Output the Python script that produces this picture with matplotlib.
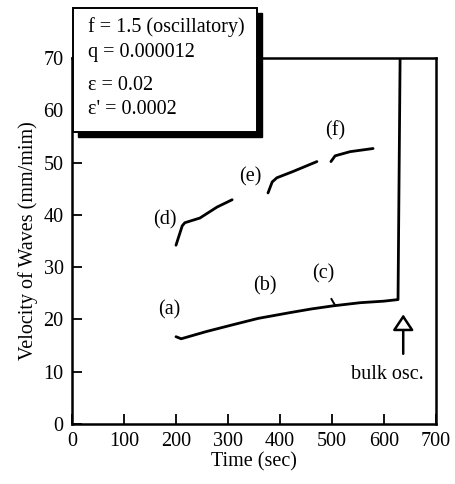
import matplotlib
matplotlib.use('Agg')
import matplotlib.pyplot as plt
from matplotlib.patches import Rectangle, FancyArrowPatch

plt.rcParams['font.family'] = ['Liberation Serif', 'DejaVu Serif']

# lower branch (a)-(c), ends in the jump to bulk oscillation
t_low = [200, 210, 259, 310, 358, 419, 460, 502, 554, 600, 627, 631]
v_low = [16.7, 16.3, 17.7, 19.0, 20.2, 21.3, 22.0, 22.6, 23.2, 23.5, 23.8, 70.0]
# upper branch segments (d), (e), (f)
t_d = [200, 212, 217, 246, 279, 308]
v_d = [34.2, 37.9, 38.5, 39.4, 41.5, 42.9]
t_e = [377, 385, 394, 425, 471]
v_e = [44.2, 46.3, 47.1, 48.3, 50.2]
t_f = [498, 506, 535, 579]
v_f = [50.2, 51.3, 52.1, 52.7]

labels = ['(a)', '(b)', '(c)', '(d)', '(e)', '(f)']
label_t = [188, 371, 483, 179, 342, 506]
label_v = [21.9, 26.5, 28.7, 39.0, 47.3, 56.0]

params = ['f = 1.5 (oscillatory)', 'q = 0.000012', '\u03b5 = 0.02', "\u03b5' = 0.0002"]

fig = plt.figure(figsize=(4.55, 4.84), dpi=100, facecolor='white')
ax = fig.add_axes([0.1582, 0.124, 0.80, 0.756])
ax.set_xlim(0, 700)
ax.set_ylim(0, 70)
ax.set_xticks(range(0, 701, 100))
ax.set_yticks(range(0, 71, 10))
ax.tick_params(direction='in', length=7, width=1.3, labelsize=14.5, pad=6)
for s in ax.spines.values():
    s.set_linewidth(1.8)

lw = 2.0
ax.plot(t_low, v_low, color='black', lw=lw, solid_capstyle='round')
ax.plot(t_d, v_d, color='black', lw=lw, solid_capstyle='round')
ax.plot(t_e, v_e, color='black', lw=lw, solid_capstyle='round')
ax.plot(t_f, v_f, color='black', lw=lw, solid_capstyle='round')
# small hook on lower branch near (c)
ax.plot([499, 506], [23.9, 22.7], color='black', lw=1.4)

for lab, x, y in zip(labels, label_t, label_v):
    ax.text(x, y, lab, ha='center', va='center', fontsize=14.5)

arrow = FancyArrowPatch((637, 12.9), (637, 21.5), arrowstyle='-|>,head_length=0.6,head_width=0.4',
                        mutation_scale=16, fc='white', ec='black', lw=1.8)
ax.add_patch(arrow)
ax.text(606, 9.4, 'bulk osc.', ha='center', va='center', fontsize=14.5)

ax.set_xlabel('Time (sec)', fontsize=14.5, labelpad=1)
ax.set_ylabel('Velocity of Waves (mm/mim)', fontsize=14.5, labelpad=4)

# parameter box with drop shadow
bx0, by0 = 73 / 455, 1 - 132 / 484
bw, bh = (257 - 73) / 455, (132 - 8) / 484
shadow = Rectangle((bx0 + 5 / 455, by0 - 5 / 484), bw, bh, transform=fig.transFigure,
                   fc='black', ec='black', zorder=10)
box = Rectangle((bx0, by0), bw, bh, transform=fig.transFigure,
                fc='white', ec='black', lw=1.4, zorder=11)
fig.patches.extend([shadow, box])
for txt, yp in zip(params, [27, 52, 86, 110]):
    fig.text(88 / 455, 1 - yp / 484, txt, ha='left', va='center', fontsize=14.5, zorder=12)

fig.savefig('out.png', dpi=100, facecolor='white')
